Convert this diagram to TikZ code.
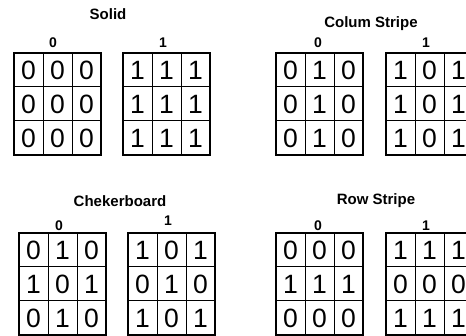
\documentclass[tikz,border=0pt]{standalone}
\usepackage{fontspec}
\setmainfont{Liberation Sans}
\begin{document}
\begin{tikzpicture}[x=1pt,y=-1pt,
  title/.style={font=\fontsize{15}{15}\selectfont\bfseries, inner sep=0pt},
  lbl/.style={font=\fontsize{14}{14}\selectfont\bfseries, inner sep=0pt},
  digit/.style={font=\fontsize{26.5}{26.5}\selectfont, inner sep=0pt},
  outer/.style={draw=black, line width=2.6pt},
  inner/.style={draw=black, line width=1pt}]
\useasboundingbox (0,0) rectangle (466,336);
\newcommand{\mygrid}[4]{%
  \foreach \c in {1,2} {\draw[inner] (#2+29*\c,#3) -- (#2+29*\c,#3+102);}
  \foreach \r in {1,2} {\draw[inner] (#2,#3+34*\r) -- (#2+87,#3+34*\r);}
  \draw[outer] (#2,#3) rectangle (#2+87,#3+102);
  \foreach \a/\b/\d [count=\i] in {#4} {
    \node[digit] (#1-\i-1) at (#2+14.5,#3+34*\i-17) {\a};
    \node[digit] (#1-\i-2) at (#2+43.5,#3+34*\i-17) {\b};
    \node[digit] (#1-\i-3) at (#2+72.5,#3+34*\i-17) {\d};
  }%
}
% titles
\node[title] (t1) at (108,14) {Solid};
\node[title] (t2) at (371,24) {Colum Stripe};
\node[title] (t3) at (120,201) {Chekerboard};
\node[title] (t4) at (376,201) {Row Stripe};
% labels
\node[lbl] (l1) at (53,43) {0};
\node[lbl] (l2) at (163,43) {1};
\node[lbl] (l3) at (318,43) {0};
\node[lbl] (l4) at (426,43) {1};
\node[lbl] (l5) at (59,226) {0};
\node[lbl] (l6) at (168,221) {1};
\node[lbl] (l7) at (318,226) {0};
\node[lbl] (l8) at (426,226) {1};
% grids
\mygrid{g1}{14}{53}{0/0/0,0/0/0,0/0/0}
\mygrid{g2}{123}{53}{1/1/1,1/1/1,1/1/1}
\mygrid{g3}{276}{53}{0/1/0,0/1/0,0/1/0}
\mygrid{g4}{386}{53}{1/0/1,1/0/1,1/0/1}
\mygrid{g5}{19}{233}{0/1/0,1/0/1,0/1/0}
\mygrid{g6}{128}{233}{1/0/1,0/1/0,1/0/1}
\mygrid{g7}{276}{233}{0/0/0,1/1/1,0/0/0}
\mygrid{g8}{386}{233}{1/1/1,0/0/0,1/1/1}
\end{tikzpicture}
\end{document}
